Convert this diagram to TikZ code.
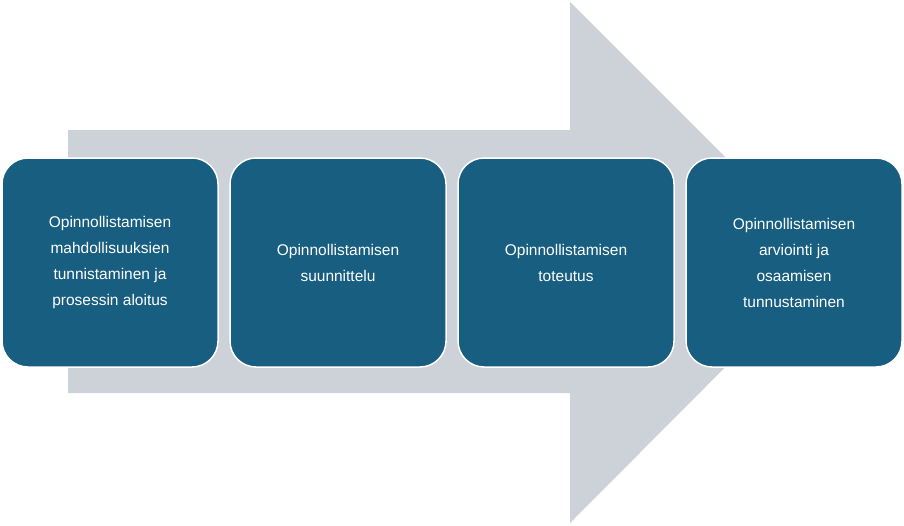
\documentclass[tikz,border=0pt]{standalone}
\usepackage{fontspec}
\setmainfont{Liberation Sans}
\definecolor{boxc}{HTML}{175E80}
\definecolor{arrc}{HTML}{CDD2D8}
\tikzset{stage/.style={draw=white,line width=1.5pt,fill=boxc,rounded corners=26pt,minimum width=216pt,minimum height=209pt,text=white,align=center,font=\fontsize{15.5}{26}\selectfont,inner sep=0pt}}
\begin{document}
\begin{tikzpicture}[x=1pt,y=-1pt]
\useasboundingbox (0,0) rectangle (904,525);
\fill[arrc] (68,130) -- (570,130) -- (570,2) -- (830,262) -- (570,523) -- (570,393) -- (68,393) -- cycle;
\node[stage] (s1) at (110,262.5) {Opinnollistamisen\\mahdollisuuksien\\tunnistaminen ja\\prosessin aloitus};
\node[stage] (s2) at (338,262.5) {Opinnollistamisen\\suunnittelu};
\node[stage] (s3) at (566,262.5) {Opinnollistamisen\\toteutus};
\node[stage] (s4) at (794,262.5) {Opinnollistamisen\\arviointi ja\\osaamisen\\tunnustaminen};
\end{tikzpicture}
\end{document}
